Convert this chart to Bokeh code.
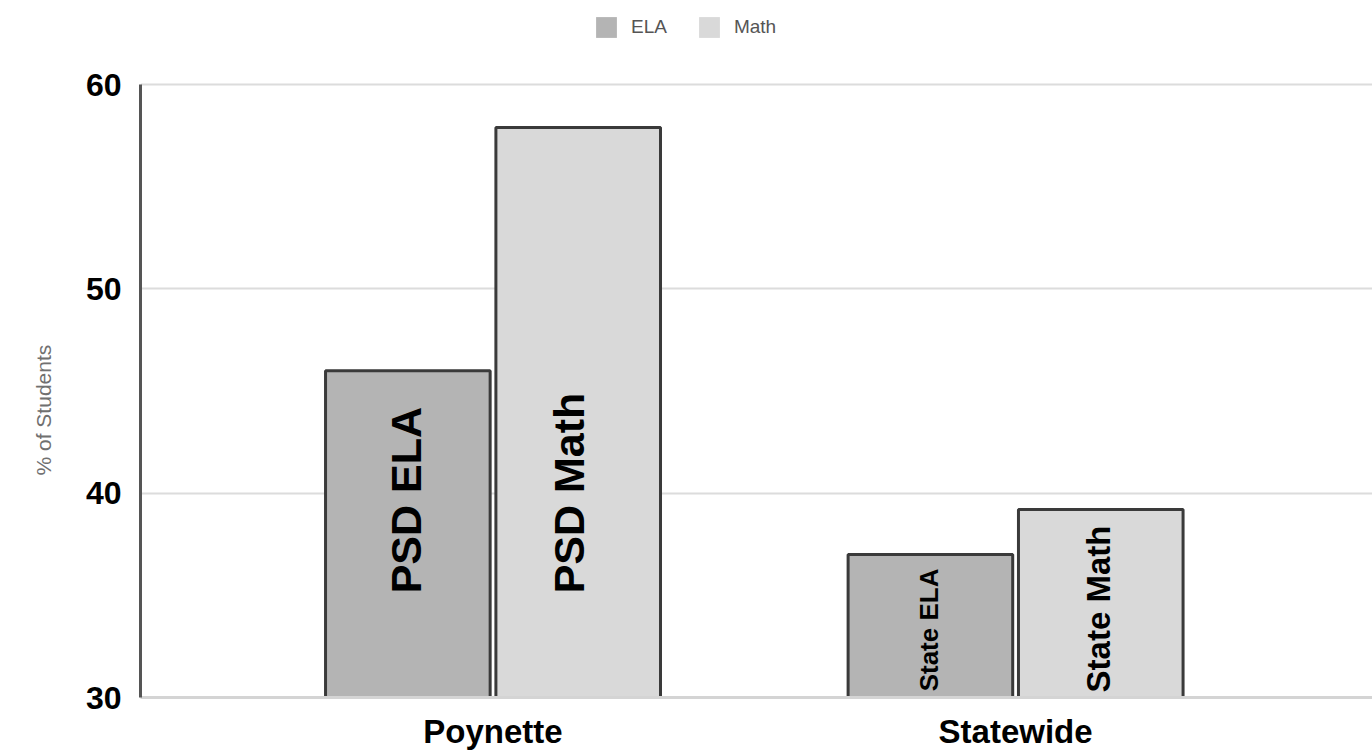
import math
from bokeh.plotting import figure
from bokeh.models import (ColumnDataSource, Range1d, FixedTicker, Legend, LegendItem, Title)
from bokeh.transform import dodge
from bokeh.core.properties import value
from bokeh.embed import file_html
from bokeh.resources import INLINE

# ---- data ----
categories = ["Poynette", "Statewide"]
series = ["ELA", "Math"]
ela_values = [46.0, 37.0]
math_values = [57.9, 39.2]
bar_labels_ela = ["PSD ELA", "State ELA"]
bar_labels_math = ["PSD Math", "State Math"]
y_ticks = [30, 40, 50, 60]
y_title = "% of Students"

# ---- styles ----
ELA_FILL = "#b4b4b4"
MATH_FILL = "#d9d9d9"
OUTLINE = "#3a3a3a"
FONT = "Liberation Sans"

idx = list(range(len(categories)))
src = ColumnDataSource(dict(x=idx, ela=ela_values, math=math_values))

# frame spans the full height so the legend (drawn in the frame) is not clipped;
# the y-axis line is bounded to 30..60
p = figure(frame_width=1232, frame_height=697, output_backend="svg", toolbar_location=None,
           x_range=Range1d(-0.6746, 1.683), y_range=Range1d(30, 64.12),
           min_border_left=140, min_border_top=0, min_border_right=0,
           min_border_bottom=0)
p.outline_line_color = None
p.background_fill_color = "white"
p.border_fill_color = "white"

BW = 0.315
OFF = 0.163
f_ela = p.vbar(x=dodge("x", -OFF, range=p.x_range), top="ela", bottom=30, width=BW,
               source=src, fill_color=ELA_FILL, line_color=None)
f_math = p.vbar(x=dodge("x", OFF, range=p.x_range), top="math", bottom=30, width=BW,
                source=src, fill_color=MATH_FILL, line_color=None)
p.vbar(x=dodge("x", -OFF, range=p.x_range), top="ela", bottom=30, width=BW,
       source=src, fill_color=None, line_color=OUTLINE, line_width=3)
p.vbar(x=dodge("x", OFF, range=p.x_range), top="math", bottom=30, width=BW,
       source=src, fill_color=None, line_color=OUTLINE, line_width=3)

# labels inside bars (rotated)
label_base = [35.1, 30.3]
ela_sizes = ["43px", "26px"]
math_sizes = ["43px", "33px"]
ela_xoff = [-2, -1]
math_xoff = [-9, -2]
for i in idx:
    s1 = ColumnDataSource(dict(x=[i], y=[label_base[i]], t=[bar_labels_ela[i]]))
    p.text(x=dodge("x", -OFF, range=p.x_range), y="y", text="t", source=s1,
           angle=math.pi / 2, text_align="left", text_baseline="middle",
           x_offset=ela_xoff[i],
           text_font=value(FONT), text_font_style="bold",
           text_font_size=ela_sizes[i], text_color="black")
    s2 = ColumnDataSource(dict(x=[i], y=[label_base[i] - (0.05 if i else 0)], t=[bar_labels_math[i]]))
    p.text(x=dodge("x", OFF, range=p.x_range), y="y", text="t", source=s2,
           angle=math.pi / 2, text_align="left", text_baseline="middle",
           x_offset=math_xoff[i],
           text_font=value(FONT), text_font_style="bold",
           text_font_size=math_sizes[i], text_color="black")

legend = Legend(items=[LegendItem(label=series[0], renderers=[f_ela]),
                       LegendItem(label=series[1], renderers=[f_math])],
                orientation="horizontal", location=(453, 657),
                glyph_width=26, glyph_height=26, label_standoff=12, spacing=29,
                padding=0, margin=0, border_line_color=None,
                background_fill_alpha=0,
                label_text_font=FONT, label_text_font_size="19px",
                label_text_color="#555555")
p.add_layout(legend, "center")

# axes
p.yaxis.ticker = FixedTicker(ticks=y_ticks)
p.yaxis.bounds = (30, 60)
p.yaxis.major_label_text_font = FONT
p.yaxis.major_label_text_font_style = "bold"
p.yaxis.major_label_text_font_size = "32px"
p.yaxis.major_label_text_color = "black"
p.yaxis.major_label_standoff = 13
p.yaxis.major_tick_line_color = None
p.yaxis.minor_tick_line_color = None
p.yaxis.axis_line_color = "#555555"
p.yaxis.axis_line_width = 3

# y-axis title, centred on the 30..60 span
p.add_layout(Title(text=y_title, align="left", offset=222, standoff=55,
                   text_font=FONT, text_font_style="normal",
                   text_font_size="21px", text_color="#707070"), "left")

p.xaxis.ticker = FixedTicker(ticks=idx)
p.xaxis.major_label_overrides = {i: c for i, c in zip(idx, categories)}
p.xaxis.major_label_text_font = FONT
p.xaxis.major_label_text_font_style = "bold"
p.xaxis.major_label_text_font_size = "33px"
p.xaxis.major_label_text_color = "black"
p.xaxis.major_label_standoff = 9
p.xaxis.major_tick_line_color = None
p.xaxis.minor_tick_line_color = None
p.xaxis.axis_line_color = "#d4d4d4"
p.xaxis.axis_line_width = 3

p.xgrid.grid_line_color = None
p.ygrid.grid_line_color = "#dcdcdc"
p.ygrid.grid_line_width = 2

open("out.html", "w").write(file_html(p, INLINE))
